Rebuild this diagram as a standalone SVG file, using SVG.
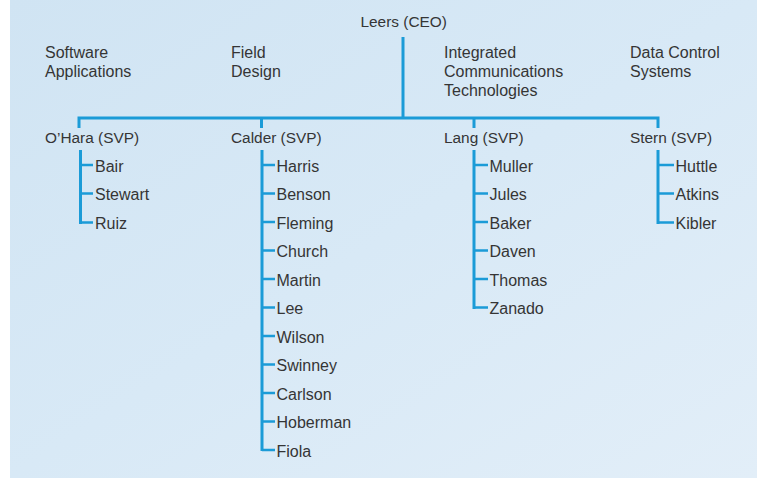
<svg xmlns="http://www.w3.org/2000/svg" width="757" height="481" viewBox="0 0 757 481">
  <defs>
    <linearGradient id="bg" x1="0" y1="0" x2="1" y2="1">
      <stop offset="0" stop-color="#d0e4f3"/>
      <stop offset="0.5" stop-color="#d8e9f6"/>
      <stop offset="1" stop-color="#e2eef8"/>
    </linearGradient>
    <style>
      text { font-family: "Liberation Sans", Arial, Helvetica, sans-serif; fill: #353535; }
      .t { font-size: 16px; }
      .s { font-size: 15.4px; }
      .ln { stroke: #1b9bd7; stroke-width: 3; fill: none; }
      .tk { stroke: #1b9bd7; stroke-width: 2.5; fill: none; }
    </style>
  </defs>
  <rect x="0" y="0" width="757" height="481" fill="#ffffff"/>
  <rect x="10" y="0" width="747" height="478" fill="url(#bg)"/>

  <g id="connectors">
    <path class="ln" d="M403,37 V118 M79,118 H658 M79,116.5 V128 M261.5,116.5 V128 M474,116.5 V128 M658,116.5 V128"/>
    <path class="ln" d="M80.5,150 V224 M262,150 V451 M474,150 V309 M658,150 V224"/>
    <path class="tk" d="M80.5,165 H93 M80.5,193.5 H93 M80.5,222.5 H93"/>
    <path class="tk" d="M262,165 H275 M262,193.5 H275 M262,222 H275 M262,250.5 H275 M262,279 H275 M262,307.5 H275 M262,336 H275 M262,364.5 H275 M262,393 H275 M262,421.5 H275 M262,450 H275"/>
    <path class="tk" d="M474,165 H488 M474,193.5 H488 M474,222 H488 M474,250.5 H488 M474,279 H488 M474,307.5 H488"/>
    <path class="tk" d="M658,165 H674 M658,193.5 H674 M658,222.5 H674"/>
  </g>

  <g id="ceo"><text class="s" x="360.5" y="27">Leers (CEO)</text></g>

  <g id="dept-software"><text class="t" x="45" y="58">Software</text><text class="t" x="45" y="77">Applications</text></g>
  <g id="dept-field"><text class="t" x="231" y="58">Field</text><text class="t" x="231" y="77">Design</text></g>
  <g id="dept-ict"><text class="t" x="444" y="58">Integrated</text><text class="t" x="444" y="77">Communications</text><text class="t" x="444" y="95.5">Technologies</text></g>
  <g id="dept-dcs"><text class="t" x="630" y="58">Data Control</text><text class="t" x="630" y="77">Systems</text></g>

  <g id="ohara"><text class="s" x="45" y="143">O’Hara (SVP)</text></g>
  <g id="calder"><text class="s" x="231" y="143">Calder (SVP)</text></g>
  <g id="lang"><text class="s" x="444" y="143">Lang (SVP)</text></g>
  <g id="stern"><text class="s" x="630" y="143">Stern (SVP)</text></g>

  <g id="ohara-team">
    <text class="t" x="95" y="171.5">Bair</text>
    <text class="t" x="95" y="200">Stewart</text>
    <text class="t" x="95" y="228.5">Ruiz</text>
  </g>
  <g id="calder-team">
    <text class="t" x="276.5" y="171.5">Harris</text>
    <text class="t" x="276.5" y="200">Benson</text>
    <text class="t" x="276.5" y="228.5">Fleming</text>
    <text class="t" x="276.5" y="257">Church</text>
    <text class="t" x="276.5" y="285.5">Martin</text>
    <text class="t" x="276.5" y="314">Lee</text>
    <text class="t" x="276.5" y="342.5">Wilson</text>
    <text class="t" x="276.5" y="371">Swinney</text>
    <text class="t" x="276.5" y="399.5">Carlson</text>
    <text class="t" x="276.5" y="428">Hoberman</text>
    <text class="t" x="276.5" y="456.5">Fiola</text>
  </g>
  <g id="lang-team">
    <text class="t" x="489.5" y="171.5">Muller</text>
    <text class="t" x="489.5" y="200">Jules</text>
    <text class="t" x="489.5" y="228.5">Baker</text>
    <text class="t" x="489.5" y="257">Daven</text>
    <text class="t" x="489.5" y="285.5">Thomas</text>
    <text class="t" x="489.5" y="314">Zanado</text>
  </g>
  <g id="stern-team">
    <text class="t" x="675.5" y="171.5">Huttle</text>
    <text class="t" x="675.5" y="200">Atkins</text>
    <text class="t" x="675.5" y="228.5">Kibler</text>
  </g>
</svg>
